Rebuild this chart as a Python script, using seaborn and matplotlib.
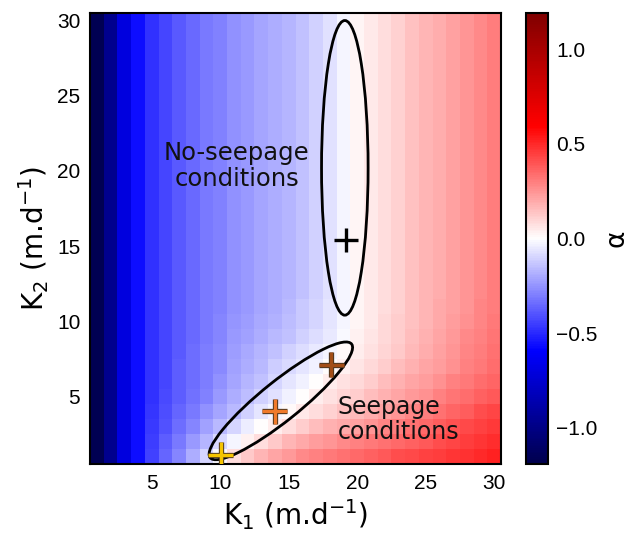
import numpy as np
import pandas as pd
import matplotlib
matplotlib.use("Agg")
import matplotlib.pyplot as plt
import matplotlib.patheffects as pe
from matplotlib.patches import Ellipse
import seaborn as sns

# ---------------- data ----------------
K1 = list(range(1, 31))
K2 = list(range(1, 31))

# alpha rows (index = K1 1..30); rows for K2 >= 12 are all alike
row_upper = [-1.17, -0.97, -0.70, -0.56, -0.48, -0.43, -0.39, -0.35, -0.31, -0.29,
             -0.26, -0.24, -0.21, -0.19, -0.17, -0.14, -0.11, -0.07, -0.025, 0.02,
             0.05, 0.08, 0.11, 0.14, 0.17, 0.19, 0.22, 0.25, 0.27, 0.30]
row_k2_11 = [-1.17, -0.97, -0.70, -0.56, -0.48, -0.43, -0.39, -0.35, -0.31, -0.29,
             -0.26, -0.24, -0.21, -0.19, -0.16, -0.13, -0.10, -0.065, -0.02, 0.02,
             0.05, 0.08, 0.11, 0.14, 0.17, 0.20, 0.22, 0.25, 0.28, 0.30]
row_k2_10 = [-1.17, -0.97, -0.70, -0.56, -0.48, -0.43, -0.39, -0.35, -0.31, -0.28,
             -0.25, -0.23, -0.20, -0.18, -0.15, -0.13, -0.10, -0.06, -0.02, 0.025,
             0.055, 0.085, 0.115, 0.145, 0.175, 0.20, 0.23, 0.26, 0.28, 0.31]
row_k2_9 = [-1.17, -0.97, -0.70, -0.56, -0.48, -0.43, -0.39, -0.35, -0.31, -0.28,
            -0.24, -0.22, -0.19, -0.16, -0.14, -0.11, -0.08, -0.05, -0.01, 0.03,
            0.06, 0.09, 0.12, 0.15, 0.18, 0.21, 0.24, 0.27, 0.29, 0.32]
row_k2_8 = [-1.17, -0.97, -0.70, -0.56, -0.48, -0.43, -0.39, -0.34, -0.30, -0.27,
            -0.23, -0.20, -0.17, -0.14, -0.11, -0.08, -0.05, -0.02, 0.01, 0.04,
            0.07, 0.10, 0.13, 0.16, 0.19, 0.22, 0.25, 0.28, 0.30, 0.33]
row_k2_7 = [-1.17, -0.97, -0.70, -0.56, -0.48, -0.43, -0.38, -0.34, -0.30, -0.27,
            -0.22, -0.19, -0.16, -0.12, -0.09, -0.06, -0.03, 0.00, 0.03, 0.06,
            0.09, 0.12, 0.15, 0.18, 0.21, 0.23, 0.26, 0.29, 0.31, 0.34]
row_k2_6 = [-1.17, -0.97, -0.70, -0.56, -0.48, -0.43, -0.38, -0.34, -0.30, -0.26,
            -0.21, -0.17, -0.14, -0.10, -0.06, -0.03, 0.00, 0.04, 0.07, 0.09,
            0.12, 0.15, 0.18, 0.21, 0.23, 0.26, 0.29, 0.31, 0.34, 0.36]
row_k2_5 = [-1.17, -0.97, -0.70, -0.56, -0.48, -0.42, -0.38, -0.33, -0.29, -0.24,
            -0.19, -0.15, -0.11, -0.07, -0.03, 0.00, 0.04, 0.07, 0.10, 0.12,
            0.15, 0.18, 0.21, 0.24, 0.26, 0.29, 0.32, 0.34, 0.37, 0.39]
row_k2_4 = [-1.17, -0.97, -0.70, -0.56, -0.47, -0.41, -0.36, -0.31, -0.26, -0.21,
            -0.16, -0.11, -0.06, -0.02, 0.01, 0.05, 0.08, 0.11, 0.14, 0.16,
            0.19, 0.22, 0.25, 0.28, 0.30, 0.33, 0.36, 0.38, 0.41, 0.43]
row_k2_3 = [-1.17, -0.97, -0.70, -0.56, -0.46, -0.40, -0.34, -0.28, -0.22, -0.16,
            -0.10, -0.04, 0.00, 0.04, 0.08, 0.12, 0.15, 0.18, 0.20, 0.22,
            0.25, 0.28, 0.30, 0.33, 0.35, 0.38, 0.40, 0.42, 0.44, 0.46]
row_k2_2 = [-1.17, -0.97, -0.70, -0.56, -0.45, -0.38, -0.31, -0.24, -0.17, -0.09,
            -0.02, 0.03, 0.08, 0.13, 0.17, 0.20, 0.23, 0.25, 0.27, 0.29,
            0.31, 0.33, 0.35, 0.37, 0.39, 0.41, 0.43, 0.45, 0.47, 0.49]
row_k2_1 = [-1.17, -0.97, -0.70, -0.56, -0.44, -0.36, -0.28, -0.19, -0.10, -0.01,
            0.08, 0.13, 0.17, 0.21, 0.24, 0.27, 0.29, 0.31, 0.33, 0.35,
            0.37, 0.39, 0.41, 0.42, 0.44, 0.45, 0.47, 0.48, 0.50, 0.52]

rows = ([row_k2_1, row_k2_2, row_k2_3, row_k2_4, row_k2_5, row_k2_6,
         row_k2_7, row_k2_8, row_k2_9, row_k2_10, row_k2_11]
        + [row_upper] * 19)

# markers (K1, K2)
cross_pts_k1 = [19.2, 10.05, 14.0, 18.1]
cross_pts_k2 = [15.4, 1.1, 4.0, 7.1]
cross_colors = ["black", "#f5c400", "#f07a2a", "#a24d16"]

# ellipses: (center K1, center K2, width, height, angle)
ell_vert = (19.1, 20.2, 3.4, 19.6, 0.0)
ell_tilt = (14.43, 4.7, 12.8, 2.7, 36.0)

tick_vals = [5, 10, 15, 20, 25, 30]
cbar_ticks = [-1.0, -0.5, 0.0, 0.5, 1.0]
VLIM = 1.19

# ---------------- figure ----------------
df = pd.DataFrame(rows, index=K2, columns=K1)

W, H = 639, 533
fig = plt.figure(figsize=(W / 100, H / 100), dpi=100)
ax = fig.add_axes([90 / W, (H - 464) / H, 411 / W, 451 / H])
cax = fig.add_axes([526 / W, (H - 464) / H, 22 / W, 451 / H])

sns.heatmap(df, ax=ax, cbar_ax=cax, cmap="seismic", vmin=-VLIM, vmax=VLIM,
            xticklabels=False, yticklabels=False, linewidths=0)
ax.invert_yaxis()

def px(k):
    return k - 0.5

tick_font = dict(family="Liberation Sans", size=15)
ax.set_xticks([px(v) for v in tick_vals])
ax.set_xticklabels([str(v) for v in tick_vals], fontdict=tick_font)
ax.set_yticks([px(v) for v in tick_vals])
ax.set_yticklabels([str(v) for v in tick_vals], fontdict=tick_font)
ax.tick_params(length=0, pad=7)

for s in ax.spines.values():
    s.set_visible(True)
    s.set_color("black")
    s.set_linewidth(1.5)

ax.set_xlabel("K$_1$ (m.d$^{-1}$)", fontsize=20, family="DejaVu Sans", labelpad=3)
ax.set_ylabel("K$_2$ (m.d$^{-1}$)", fontsize=20, family="DejaVu Sans", labelpad=4)

# ellipses
for (cx, cy, w, h, ang) in [ell_vert, ell_tilt]:
    ax.add_patch(Ellipse((px(cx), px(cy)), w, h, angle=ang, fill=False,
                         edgecolor="black", linewidth=2, zorder=3))

# crosses
for x, y, c in zip(cross_pts_k1, cross_pts_k2, cross_colors):
    if c == "black":
        ax.plot([px(x)], [px(y)], marker="+", markersize=17, mew=2.4,
                color="black", linestyle="none", zorder=5)
    else:
        ln, = ax.plot([px(x)], [px(y)], marker="+", markersize=18, mew=2.4,
                      color=c, linestyle="none", zorder=5)
        ln.set_path_effects([pe.Stroke(linewidth=3.8, foreground="#4a3520"),
                             pe.Normal()])

# annotations
ax.text(px(11.2), px(20.3), "No-seepage\nconditions", ha="center", va="center",
        fontsize=17.5, family="DejaVu Sans", color="#111111", linespacing=1.1)
ax.text(px(18.6), px(3.45), "Seepage\nconditions", ha="left", va="center",
        fontsize=17, family="DejaVu Sans", color="#111111", linespacing=1.05)

# colorbar
cbar = ax.collections[0].colorbar
cbar.set_ticks(cbar_ticks)
cbar.set_ticklabels(["\u22121.0", "\u22120.5", "0.0", "0.5", "1.0"])
cax.tick_params(length=0, pad=6)
for lab in cax.get_yticklabels():
    lab.set_fontfamily("Liberation Sans")
    lab.set_fontsize(15)
cbar.outline.set_visible(True)
cbar.outline.set_edgecolor("black")
cbar.outline.set_linewidth(1.5)
cbar.set_label("\u03b1", fontsize=19, family="DejaVu Sans", labelpad=4)

fig.savefig("out.png", dpi=100)
